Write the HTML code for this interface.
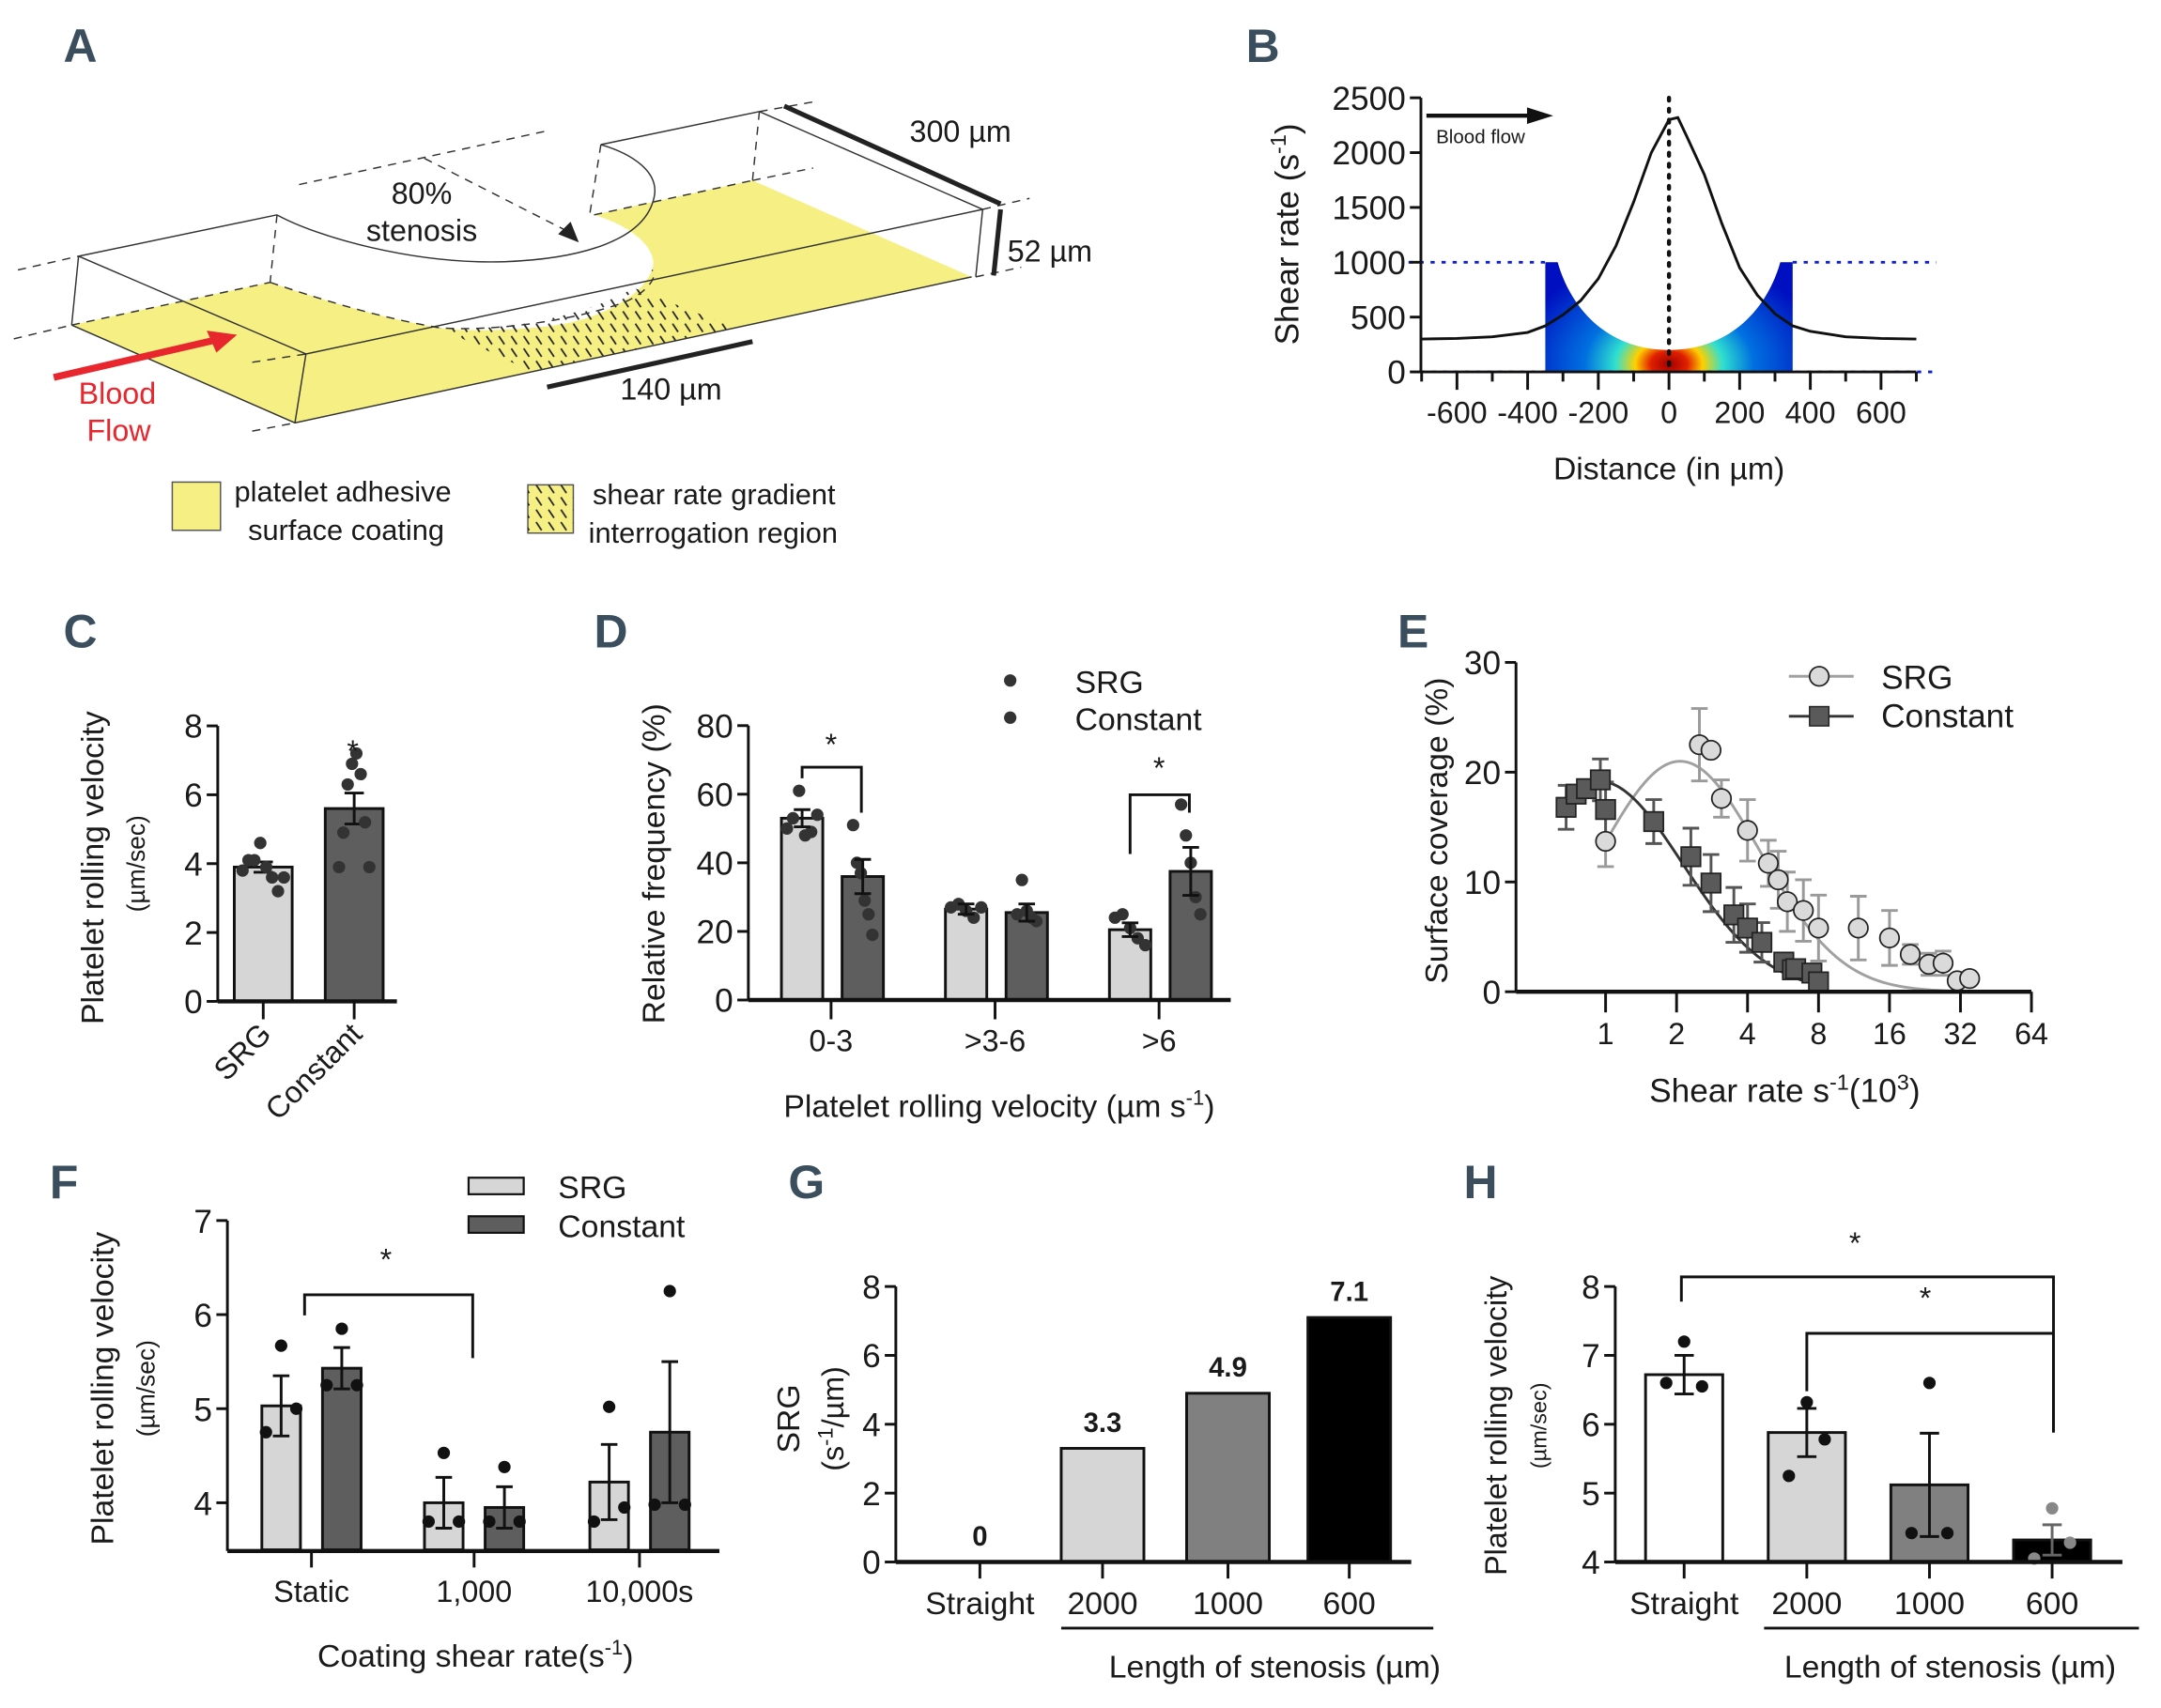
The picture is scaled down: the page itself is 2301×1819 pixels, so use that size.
<!DOCTYPE html>
<html><head><meta charset="utf-8"><style>
html,body{margin:0;padding:0;background:#fff}
svg{display:block}
text{font-family:"Liberation Sans",sans-serif;fill:#1a1a1a}
.n{font-family:"Liberation Sans Narrow","Liberation Sans",sans-serif}
.pl{font-family:"Liberation Sans Narrow","Liberation Sans",sans-serif;font-weight:bold;fill:#3b4e5e;font-size:34px}
</style></head><body>
<svg id="fig" width="2301" height="1819" viewBox="0 0 1568 1240" preserveAspectRatio="none" xmlns="http://www.w3.org/2000/svg">
<defs>
<pattern id="hatch" width="9" height="9" patternUnits="userSpaceOnUse"><line x1="2" y1="1" x2="6" y2="7" stroke="#222" stroke-width="1.2"/></pattern>
<radialGradient id="heat" cx="0.5" cy="0.93" r="0.62" fx="0.5" fy="0.93" gradientTransform="translate(0.5 0.93) scale(1 1.6) translate(-0.5 -0.93)">
<stop offset="0" stop-color="#a00000"/><stop offset="0.12" stop-color="#e02000"/><stop offset="0.22" stop-color="#ffd000"/><stop offset="0.35" stop-color="#30e0d0"/><stop offset="0.55" stop-color="#0070e0"/><stop offset="1" stop-color="#0010c0"/>
</radialGradient>
</defs>
<text class="pl" x="46" y="45">A</text>
<text class="pl" x="904" y="45">B</text>
<text class="pl" x="46" y="470">C</text>
<text class="pl" x="431" y="470">D</text>
<text class="pl" x="1014" y="470">E</text>
<text class="pl" x="36" y="870">F</text>
<text class="pl" x="572" y="870">G</text>
<text class="pl" x="1062" y="870">H</text>

<g>
<path fill="#f6f084" d="M52,236 L214,307 L705,201 L546,131 L431,156 C465,166 478,185 473,196 C468,212 440,232 397,237 C360,241 330,240 319,238 C290,233 255,225 196,205 Z"/>
<path fill="url(#hatch)" d="M319,238 C360,241 420,232 460,209 L533,238 L386,270 Z"/>
<g fill="none" stroke="#333" stroke-width="1">
<path d="M57,186 L52,236 M57,186 L222,257 L214,307 M57,186 L201,156 M222,257 L713,152 M551,81 L713,152 L708,201 M436,105 L551,81 M52,236 L214,307 L705,201"/>
<path d="M201,156 C230,172 300,192 366,190 C420,188 470,175 475,141 C477,125 460,112 436,105"/>
</g>
<g fill="none" stroke="#333" stroke-width="1" stroke-dasharray="6,5">
<path d="M201,156 L196,205 M436,105 L428,155 M551,81 L546,131 M10,246 L52,236 M183,313 L214,307 M13,196 L57,186 M217,134 L397,95 M546,131 L590,122 M713,152 L747,144 M708,201 L741,194 M551,81 L590,74 M183,263 L222,257 M52,236 L196,205 M431,156 L546,131"/>
<path d="M196,205 C255,225 290,233 319,238 C360,241 420,232 454,219 C470,212 478,200 473,196"/>
<path d="M308,115 L412,168"/>
</g>
<path d="M405,170 L420,176 L414,161 Z" fill="#222"/>
<g stroke="#222" stroke-width="3.5"><line x1="569" y1="77" x2="726" y2="148"/><line x1="726" y1="152" x2="721" y2="200"/><line x1="397" y1="281" x2="546" y2="248"/></g>
<line x1="39" y1="274" x2="160" y2="246" stroke="#e8262d" stroke-width="5"/>
<path d="M172,243 L150,240 L157,256 Z" fill="#e8262d"/>
<text x="306" y="148" font-size="22" text-anchor="middle">80%</text>
<text x="306" y="175" font-size="22" text-anchor="middle">stenosis</text>
<text x="660" y="103" font-size="22">300 µm</text>
<text x="731" y="190" font-size="22">52 µm</text>
<text x="450" y="290" font-size="22">140 µm</text>
<text x="57" y="293" font-size="22" style="fill:#e8262d">Blood</text>
<text x="63" y="320" font-size="22" style="fill:#e8262d">Flow</text>
<rect x="125" y="350" width="35" height="35" fill="#f6f084" stroke="#555"/>
<text x="170" y="364" font-size="21">platelet adhesive</text>
<text x="180" y="392" font-size="21">surface coating</text>
<rect x="383" y="352" width="33" height="35" fill="#f6f084" stroke="#555"/>
<rect x="383" y="352" width="33" height="35" fill="url(#hatch)"/>
<text x="430" y="366" font-size="21">shear rate gradient</text>
<text x="427" y="394" font-size="21">interrogation region</text>
</g>
<g id="charts"></g>
</svg>
<script>
const NS='http://www.w3.org/2000/svg';
const root=document.getElementById('charts');
function mk(tag,attrs,parent){const e=document.createElementNS(NS,tag);for(const k in attrs)e.setAttribute(k,attrs[k]);(parent||root).appendChild(e);return e;}
function nm(e,n,i){return e;}
function txt(x,y,s,size,anchor,cls,extra){const t=mk('text',Object.assign({x:x,y:y,'font-size':size,'text-anchor':anchor||'middle'},extra||{}));if(cls)t.setAttribute('class',cls);t.textContent=s;return t;}
function ln(x1,y1,x2,y2,st,w,extra){return mk('line',Object.assign({x1:x1,y1:y1,x2:x2,y2:y2,stroke:st||'#111','stroke-width':w||2},extra||{}));}
function yAxis(x,ticks,yf,size,name){const a=ln(x,yf(ticks[ticks.length-1]),x,yf(ticks[0]),'#111',2);nm(a,name+'-y-axis');
 ticks.forEach(v=>{nm(ln(x-8,yf(v),x,yf(v),'#111',2),name+'-y-tick');nm(txt(x-11,yf(v)+size*0.36,String(v),size,'end','n'),name+'-y-tick-label');});}
function rtxt(x,y,s,size,name){const t=txt(x,y,s,size,'middle');t.setAttribute('transform','rotate(-90 '+x+' '+y+')');nm(t,name);return t;}
function errbar(x,yv,ye,yf,col,hw){nm(ln(x,yf(yv+ye),x,yf(yv-ye),col||'#111',2),'error-bar');nm(ln(x-hw,yf(yv+ye),x+hw,yf(yv+ye),col||'#111',2),'error-cap');nm(ln(x-hw,yf(yv-ye),x+hw,yf(yv-ye),col||'#111',2),'error-cap');}
function dots(cx,vals,yf,col,r,spread){vals.forEach((v,i)=>{const off=vals.length>1?(i/(vals.length-1)-0.5)*spread:0;nm(mk('circle',{cx:cx+off,cy:yf(v),r:r,fill:col}),'data-point');});}
function bar(x,w,v,base,yf,fill,name){const r=mk('rect',{x:x,y:yf(v),width:w,height:yf(base)-yf(v),fill:fill,stroke:'#111','stroke-width':2});nm(r,name);return r;}
function bracket(x1,y1,x2,y2,top,sx,sy){nm(mk('path',{d:`M${x1},${y1} L${x1},${top} L${x2},${top} L${x2},${y2}`,fill:'none',stroke:'#111','stroke-width':2}),'significance-bracket');nm(txt(sx,sy,'*',22,'middle'),'significance-star');}

/* ---------- Panel B ---------- */
const bDist=[-700,-600,-500,-400,-350,-300,-250,-200,-150,-100,-50,0,25,50,100,150,200,250,300,350,400,500,600,700];
const bShear=[300,305,320,360,420,520,650,850,1150,1550,2000,2300,2320,2150,1800,1350,950,700,530,420,370,320,305,300];
const bYTicks=[0,500,1000,1500,2000,2500];
const bXTicks=[-600,-400,-200,0,200,400,600];
const bX=d=>1211+d*0.2564, bY=v=>270-v*0.0796;
nm(mk('path',{d:`M${bX(-350)},${bY(1000)} L${bX(-315)},${bY(1000)} C${bX(-280)},${bY(600)} ${bX(-180)},${bY(200)} ${bX(0)},${bY(200)} C${bX(180)},${bY(200)} ${bX(280)},${bY(600)} ${bX(315)},${bY(1000)} L${bX(350)},${bY(1000)} L${bX(350)},${bY(0)} L${bX(-350)},${bY(0)} Z`,fill:'url(#heat)'}),'shear-heatmap');
nm(mk('path',{d:`M1022,${bY(1000)} L${bX(-350)},${bY(1000)} M${bX(350)},${bY(1000)} L1405,${bY(1000)} M1031,${bY(0)} L1405,${bY(0)}`,stroke:'#1020d0','stroke-width':2,'stroke-dasharray':'3,5',fill:'none'}),'threshold-line');
nm(mk('polyline',{points:bDist.map((d,i)=>bX(d)+','+bY(bShear[i])).join(' '),fill:'none',stroke:'#111','stroke-width':2}),'shear-rate-curve');
nm(ln(bX(0),71,bX(0),270,'#111',3,{'stroke-dasharray':'2,6','stroke-linecap':'round'}),'center-line');
yAxis(1031,bYTicks,bY,24,'b');
nm(ln(1031,270,bX(700),270,'#111',2),'b-x-axis');
for(let d=-700;d<=700;d+=100){nm(ln(bX(d),270,bX(d),d%200===0?283:277,'#111',2),'b-x-tick');}
bXTicks.forEach(d=>nm(txt(bX(d),307,String(d),22,'middle','n'),'b-x-tick-label'));
nm(txt(1211,348,'Distance (in µm)',23),'b-x-axis-title');
const bt=rtxt(942,170,'',24,'b-y-axis-title');bt.innerHTML='Shear rate (s<tspan dy="-9" font-size="16">-1</tspan><tspan dy="9">)</tspan>';
nm(ln(1035,84,1112,84,'#111',3),'blood-flow-arrow');nm(mk('path',{d:'M1127,84 L1108,78 L1108,90 Z',fill:'#111'}),'blood-flow-arrowhead');
nm(txt(1042,104,'Blood flow',14,'start','n'),'blood-flow-label');

/* ---------- Panel C ---------- */
const cCats=['SRG','Constant'];
const cMeans=[3.9,5.6];
const cErr=[0.15,0.45];
const cDotsSRG=[3.8,4.1,4.1,4.6,3.9,3.6,3.2,3.6];
const cDotsConst=[3.9,4.9,6.3,6.9,7.2,6.6,5.2,3.9];
const cYTicks=[0,2,4,6,8];
const cY=v=>727-v*25;
const cFill=['#d6d6d6','#5e5e5e'];const cX=[170,236];
cMeans.forEach((m,i)=>{bar(cX[i],42,m,0,cY,cFill[i],'c-bar-'+cCats[i].toLowerCase());errbar(cX[i]+21,m,cErr[i],cY,'#111',7);});
dots(191,cDotsSRG,cY,'#333',4.5,30);dots(257,cDotsConst,cY,'#333',4.5,22);
yAxis(158,cYTicks,cY,24,'c');nm(ln(158,727,288,727,'#111',3),'c-x-axis');
cX.forEach((x,i)=>{nm(ln(x+21,727,x+21,740,'#111',2),'c-x-tick');const t=txt(x+28,752,cCats[i],22,'end');t.setAttribute('transform',`rotate(-45 ${x+28} 752)`);nm(t,'c-x-tick-label');});
nm(txt(256,553,'*',22),'significance-star');
rtxt(75,630,'Platelet rolling velocity',23,'c-y-axis-title');rtxt(105,627,'(µm/sec)',18,'c-y-axis-unit');

/* ---------- Panel D ---------- */
const dCats=['0-3','>3-6','>6'];
const dSRG=[53,26.5,20.5];
const dSRGErr=[2.5,1.5,2];
const dConst=[36,25.5,37.5];
const dConstErr=[5,2.5,7];
const dDotsSRG=[[50,53,61,48,49,54],[27,28,26,24,27],[24,25,21,18,16]];
const dDotsConst=[[51,40,37,29,25,19],[25,35,26,24,23],[57,48,40,30,25]];
const dYTicks=[0,20,40,60,80];
const dY=v=>726-v*2.49;
const dCx=[603,722,841];
dCats.forEach((c,i)=>{const cx=dCx[i];
 bar(cx-36,30,dSRG[i],0,dY,'#d6d6d6','d-bar-srg');bar(cx+8,30,dConst[i],0,dY,'#5e5e5e','d-bar-constant');
 dots(cx-21,dDotsSRG[i],dY,'#333',4.5,22);dots(cx+23,dDotsConst[i],dY,'#333',4.5,14);
 errbar(cx-21,dSRG[i],dSRGErr[i],dY,'#111',6);errbar(cx+23,dConst[i],dConstErr[i],dY,'#111',6);
 nm(ln(cx,726,cx,740,'#111',2),'d-x-tick');nm(txt(cx,763,c,22,'middle','n'),'d-x-tick-label');});
yAxis(543,dYTicks,dY,24,'d');nm(ln(543,726,893,726,'#111',3),'d-x-axis');
bracket(582,565,625,590,557,603,548);bracket(820,620,863,590,577,841,565);
nm(mk('circle',{cx:733,cy:494,r:4.5,fill:'#333'}),'legend-marker-srg');nm(txt(780,503,'SRG',23,'start'),'legend-label-srg');
nm(mk('circle',{cx:733,cy:521,r:4.5,fill:'#333'}),'legend-marker-constant');nm(txt(780,530,'Constant',23,'start'),'legend-label-constant');
rtxt(482,627,'Relative frequency (%)',23,'d-y-axis-title');
const dt=txt(725,811,'',23);nm(dt,'d-x-axis-title');dt.innerHTML='Platelet rolling velocity (µm s<tspan dy="-9" font-size="15">-1</tspan><tspan dy="9">)</tspan>';

/* ---------- Panel E ---------- */
const eSRGx=[1,2.5,2.8,3.1,4,4.9,5.4,5.9,6.9,8,11.8,16,19.6,23.5,27,31,35];
const eSRGy=[13.7,22.5,22,17.6,14.7,11.7,10.2,8.2,7.4,5.8,5.8,4.9,3.4,2.5,2.6,1.0,1.2];
const eSRGe=[2.3,3.3,0,1.7,2.8,2.1,2.6,2.7,2.8,3,2.9,2.5,0.9,1.0,1.1,0,0];
const eConX=[0.68,0.75,0.83,0.95,1.0,1.6,2.3,2.8,3.5,4.0,4.6,5.7,6.2,6.4,7.5,8.0];
const eConY=[16.8,18,18.5,19.3,16.6,15.5,12.3,9.9,7.0,5.8,4.5,2.7,2.0,2.1,1.7,0.9];
const eConE=[2,0,0,1.9,2.5,2,2.6,2.6,2.5,2.2,1.8,0,0,0,0,0];
const eXTicks=[1,2,4,8,16,32,64];
const eYTicks=[0,10,20,30];
const eX=v=>1165+Math.log2(v)*51.5, eY=v=>720-v*7.97;
let p1=[],p2=[];for(let l=0;l<=5.15;l+=0.05){const v=Math.pow(2,l);p1.push(eX(v)+','+eY(21*Math.exp(-Math.pow((l-1.05)/1.6,2))));}
for(let l=-0.15;l<=3.05;l+=0.05){const v=Math.pow(2,l);p2.push(eX(v)+','+eY(Math.max(0,19.2*Math.exp(-Math.pow((l+0.1)/1.68,2)))));}
nm(mk('polyline',{points:p1.join(' '),fill:'none',stroke:'#a0a0a0','stroke-width':2}),'srg-fit-curve');
nm(mk('polyline',{points:p2.join(' '),fill:'none',stroke:'#333','stroke-width':2}),'constant-fit-curve');
eSRGx.forEach((x,i)=>{if(eSRGe[i])errbar(eX(x),eSRGy[i],eSRGe[i],eY,'#9a9a9a',6);});
eConX.forEach((x,i)=>{if(eConE[i])errbar(eX(x),eConY[i],eConE[i],eY,'#555',6);});
eConX.forEach((x,i)=>nm(mk('rect',{x:eX(x)-7,y:eY(eConY[i])-7,width:14,height:14,fill:'#5a5a5a',stroke:'#222','stroke-width':1.2}),'constant-point'));
eSRGx.forEach((x,i)=>nm(mk('circle',{cx:eX(x),cy:eY(eSRGy[i]),r:7,fill:'#dadada',stroke:'#222','stroke-width':1.2}),'srg-point'));
yAxis(1100,eYTicks,eY,24,'e');nm(ln(1100,720,1474,720,'#111',3),'e-x-axis');
eXTicks.forEach(v=>{nm(ln(eX(v),720,eX(v),735,'#111',2),'e-x-tick');nm(txt(eX(v),758,String(v),22,'middle','n'),'e-x-tick-label');});
nm(ln(1298,491,1345,491,'#a0a0a0',2),'legend-line-srg');nm(mk('circle',{cx:1320,cy:491,r:7,fill:'#dadada',stroke:'#222','stroke-width':1.2}),'legend-marker-srg');
nm(txt(1365,500,'SRG',24,'start'),'legend-label-srg');
nm(ln(1298,520,1345,520,'#333',2),'legend-line-constant');nm(mk('rect',{x:1313,y:513,width:14,height:14,fill:'#5a5a5a',stroke:'#222'}),'legend-marker-constant');
nm(txt(1365,528,'Constant',24,'start'),'legend-label-constant');
rtxt(1050,603,'Surface coverage (%)',23,'e-y-axis-title');
const et=txt(1295,800,'',24);nm(et,'e-x-axis-title');et.innerHTML='Shear rate s<tspan dy="-9" font-size="16">-1</tspan><tspan dy="9">(10</tspan><tspan dy="-9" font-size="16">3</tspan><tspan dy="9">)</tspan>';

/* ---------- Panel F ---------- */
const fCats=['Static','1,000','10,000s'];
const fSRG=[5.03,4.0,4.22];
const fSRGErr=[0.32,0.27,0.4];
const fConst=[5.43,3.95,4.75];
const fConstErr=[0.22,0.22,0.75];
const fDotsSRG=[[4.75,5.67,5.0],[3.8,4.53,3.8],[3.8,5.02,3.95]];
const fDotsConst=[[5.25,5.85,5.25],[3.8,4.38,3.8],[3.98,6.25,3.98]];
const fYTicks=[4,5,6,7];
const fY=v=>1091-(v-4)*68.3;
const fCx=[226,344,464];
fCats.forEach((c,i)=>{const cx=fCx[i];
 bar(cx-36,28,fSRG[i],3.5,fY,'#d6d6d6','f-bar-srg');bar(cx+8,28,fConst[i],3.5,fY,'#5e5e5e','f-bar-constant');
 errbar(cx-22,fSRG[i],fSRGErr[i],fY,'#111',6);errbar(cx+22,fConst[i],fConstErr[i],fY,'#111',6);
 dots(cx-22,fDotsSRG[i],fY,'#111',4.5,22);dots(cx+22,fDotsConst[i],fY,'#111',4.5,22);
 nm(ln(cx,1126,cx,1138,'#111',2),'f-x-tick');nm(txt(cx,1163,c,22),'f-x-tick-label');});
nm(ln(165,1126,165,fY(7),'#111',2),'f-y-axis');
fYTicks.forEach(v=>{nm(ln(157,fY(v),165,fY(v),'#111',2),'f-y-tick');nm(txt(154,fY(v)+9,String(v),24,'end','n'),'f-y-tick-label');});
nm(ln(165,1126,522,1126,'#111',3),'f-x-axis');
bracket(221,955,343,986,940,280,922);
nm(mk('rect',{x:340,y:855,width:40,height:12,fill:'#d6d6d6',stroke:'#111','stroke-width':1.5}),'legend-swatch-srg');nm(txt(405,870,'SRG',23,'start'),'legend-label-srg');
nm(mk('rect',{x:340,y:883,width:40,height:12,fill:'#5e5e5e',stroke:'#111','stroke-width':1.5}),'legend-swatch-constant');nm(txt(405,898,'Constant',23,'start'),'legend-label-constant');
rtxt(82,1008,'Platelet rolling velocity',23,'f-y-axis-title');rtxt(112,1008,'(µm/sec)',18,'f-y-axis-unit');
const ft=txt(345,1210,'',23);nm(ft,'f-x-axis-title');ft.innerHTML='Coating shear rate(s<tspan dy="-9" font-size="15">-1</tspan><tspan dy="9">)</tspan>';

/* ---------- Panel G ---------- */
const gCats=['Straight','2000','1000','600'];
const gVals=[0,3.3,4.9,7.1];
const gLabels=['0','3.3','4.9','7.1'];
const gYTicks=[0,2,4,6,8];
const gY=v=>1134-v*25;
const gCx=[711,800,891,979];const gFill=['#fff','#d6d6d6','#808080','#000'];
gCats.forEach((c,i)=>{const cx=gCx[i];if(gVals[i]>0)bar(cx-30,60,gVals[i],0,gY,gFill[i],'g-bar-'+c.toLowerCase());
 nm(txt(cx,gY(gVals[i])-12,gLabels[i],20,'middle','',{'font-weight':'bold'}),'g-value-label');
 nm(ln(cx,1134,cx,1146,'#111',2),'g-x-tick');nm(txt(cx,1172,c,23),'g-x-tick-label');});
yAxis(650,gYTicks,gY,24,'g');nm(ln(650,1134,1024,1134,'#111',3),'g-x-axis');
nm(ln(770,1182,1040,1182,'#111',2),'g-group-line');nm(txt(925,1218,'Length of stenosis (µm)',23),'g-x-axis-title');
rtxt(580,1030,'SRG',23,'g-y-axis-title');const gt=rtxt(612,1030,'',22,'g-y-axis-unit');gt.innerHTML='(s<tspan dy="-8" font-size="15">-1</tspan><tspan dy="8">/µm)</tspan>';

/* ---------- Panel H ---------- */
const hCats=['Straight','2000','1000','600'];
const hVals=[6.72,5.88,5.12,4.32];
const hErr=[0.28,0.35,0.75,0.22];
const hDots=[[6.6,7.2,6.55],[5.25,6.32,5.78],[4.42,6.6,4.42],[4.05,4.78,4.28]];
const hYTicks=[4,5,6,7,8];
const hY=v=>1134-(v-4)*50;
const hCx=[1222,1311,1400,1489];const hFill=['#fff','#d6d6d6','#808080','#000'];
hCats.forEach((c,i)=>{const cx=hCx[i];bar(cx-28,56,hVals[i],4,hY,hFill[i],'h-bar-'+c.toLowerCase());
 errbar(cx,hVals[i],hErr[i],hY,i===3?'#666':'#111',7);dots(cx,hDots[i],hY,i===3?'#888':'#111',4.5,26);
 nm(ln(cx,1134,cx,1146,'#111',2),'h-x-tick');nm(txt(cx,1172,c,23),'h-x-tick-label');});
yAxis(1172,hYTicks,hY,24,'h');nm(ln(1172,1134,1540,1134,'#111',3),'h-x-axis');
bracket(1220,945,1490,1040,927,1346,910);bracket(1311,1010,1490,1040,968,1397,950);
nm(ln(1280,1182,1552,1182,'#111',2),'h-group-line');nm(txt(1415,1218,'Length of stenosis (µm)',23),'h-x-axis-title');
rtxt(1093,1035,'Platelet rolling velocity',22,'h-y-axis-title');rtxt(1122,1035,'(µm/sec)',16,'h-y-axis-unit');
</script>
</body></html>
